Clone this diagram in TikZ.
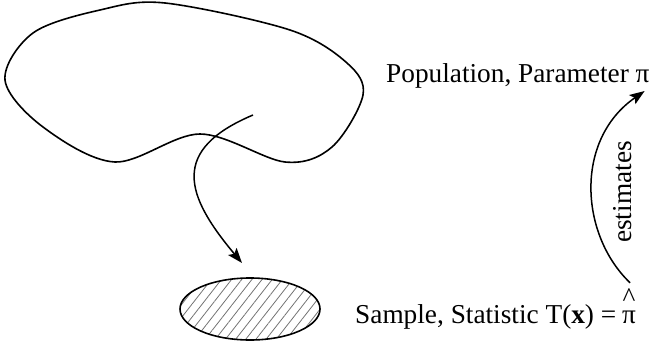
\documentclass[tikz,border=0pt]{standalone}
\usepackage{fontspec}
\setmainfont{Liberation Serif}
\usetikzlibrary{arrows.meta,patterns.meta,positioning}
\begin{document}
\begin{tikzpicture}[x=1pt,y=-1pt,font=\fontsize{27.3}{30}\selectfont,
  curve/.style={line width=1.6pt},
  conn/.style={line width=1.5pt,-{Stealth[length=15pt,width=11pt,inset=3pt]}}]
\useasboundingbox (0,0) rectangle (652,342);

\draw[curve] plot[smooth cycle,tension=0.55] coordinates {(5,80) (33,33) (100,10) (165,3) (290,30) (347,63) (363,95) (332,147) (285,162) (200,134) (115,162) (43,127)};
\coordinate (a) at (253,115);

\draw[curve,pattern={Lines[angle=52,distance=8pt,line width=0.8pt]},pattern color=black!55] (250,309) ellipse [x radius=70,y radius=31];
\coordinate (b) at (242,263);

\node[anchor=base west,inner sep=0pt] (pop) at (386,83) {Population, Parameter π};
\node[anchor=base west,inner sep=0pt] (smp) at (355,323) {Sample, Statistic T(\textbf{x}) =};
\node[anchor=base west,inner sep=0pt] (pihat) at (622,323) {\begin{tabular}[b]{@{}c@{}}\textasciicircum\\[-13pt]π\end{tabular}};
\node[rotate=90,inner sep=0pt] (est) at (623,192) {estimates};

\draw[conn] (a) .. controls (170,150) and (185,195) .. (b);
\draw[conn] ([xshift=1pt,yshift=2pt]pihat.north) .. controls (580,235) and (574,140) .. ([xshift=-5pt,yshift=-2pt]pop.south east);
\end{tikzpicture}
\end{document}
